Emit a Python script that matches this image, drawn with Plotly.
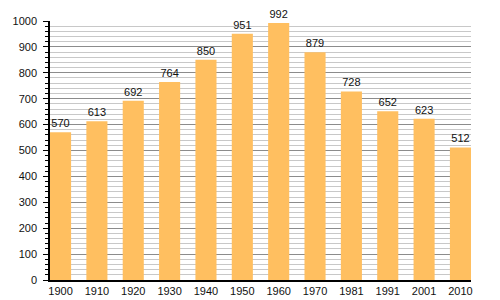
import plotly.graph_objects as go

years = ["1900", "1910", "1920", "1930", "1940", "1950", "1960", "1970", "1981", "1991", "2001", "2010"]
population = [570, 613, 692, 764, 850, 951, 992, 879, 728, 652, 623, 512]

xs = list(range(len(years)))

fig = go.Figure(go.Bar(
    x=xs, y=population,
    marker=dict(color="#ffbf60", line=dict(width=0)),
    width=0.58,
    text=[str(v) for v in population],
    textposition="outside",
    textfont=dict(size=11, color="#111111"),
    cliponaxis=False,
))

fig.update_layout(
    width=500, height=300,
    margin=dict(l=50, r=29, t=21, b=20),
    paper_bgcolor="white", plot_bgcolor="white",
    font=dict(family="Liberation Sans, Arial, sans-serif", size=11, color="#111"),
    showlegend=False,
    xaxis=dict(
        tickmode="array", tickvals=xs, ticktext=years,
        range=[-0.29, 11.29], automargin=False,
        showgrid=False, showline=True, linecolor="black", linewidth=1.5,
        ticks="", zeroline=False, fixedrange=True,
    ),
    yaxis=dict(
        range=[0, 1000], dtick=100, automargin=False,
        showgrid=True, gridcolor="#8c8c8c", gridwidth=1,
        showline=True, linecolor="black", linewidth=1.5,
        ticks="outside", ticklen=5, tickcolor="black", ticklabelstandoff=4,
        zeroline=False,
        minor=dict(dtick=20, showgrid=True, gridcolor="#c8c8c8", gridwidth=1,
                   ticks="outside", ticklen=3, tickcolor="black"),
    ),
)

fig.write_html("out.html")
